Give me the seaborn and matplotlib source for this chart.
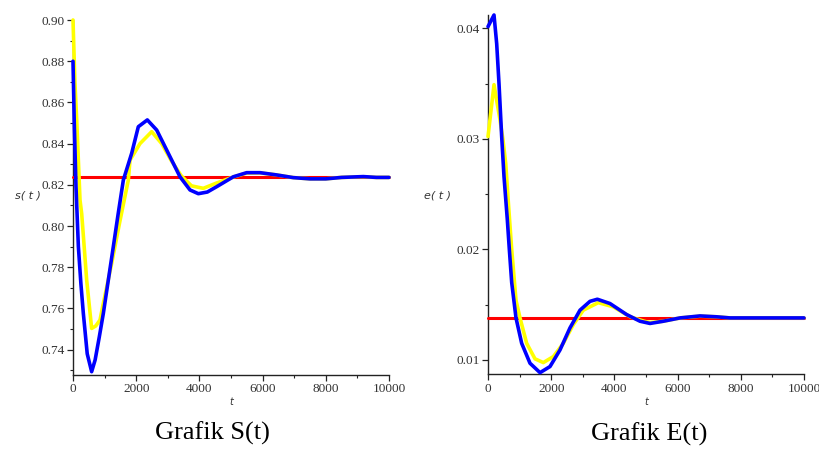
import numpy as np
import pandas as pd
import matplotlib
matplotlib.use("Agg")
import matplotlib.pyplot as plt
import seaborn as sns
from matplotlib.ticker import MultipleLocator, FormatStrFormatter

# ---------------- data ----------------
# S(t) panel
s_blue_t = [0, 40, 95, 170, 250, 327, 450, 590, 700, 830, 960, 1120, 1276, 1430, 1593,
            1857, 2067, 2352, 2648, 2964, 3386, 3703, 3966, 4250, 4547, 5073, 5497,
            5918, 6446, 6972, 7500, 8000, 8500, 9187, 9600, 10000]
s_blue_v = [0.880, 0.850, 0.819, 0.790, 0.772, 0.7576, 0.738, 0.7293, 0.735, 0.746, 0.7576,
            0.774, 0.790, 0.806, 0.8223, 0.8353, 0.8482, 0.8515, 0.8466, 0.8369, 0.8239,
            0.8175, 0.8157, 0.8165, 0.8191, 0.8239, 0.8259, 0.8259, 0.8248, 0.8235, 0.8229,
            0.8229, 0.8236, 0.8240, 0.8236, 0.8236]
s_yel_t = [0, 60, 117, 222, 275, 433, 590, 720, 854, 960, 1224, 1480, 1751, 1804, 2120,
           2490, 2807, 3100, 3420, 3750, 4124, 4547, 5073, 5497, 5918, 6446, 6972, 7500,
           8000, 8500, 9187, 9600, 10000]
s_yel_v = [0.900, 0.870, 0.8515, 0.8126, 0.806, 0.7738, 0.7503, 0.7515, 0.7544, 0.7625,
           0.7819, 0.802, 0.8223, 0.832, 0.840, 0.8458, 0.840, 0.832, 0.8245, 0.8195,
           0.8183, 0.8209, 0.8238, 0.8257, 0.8258, 0.8248, 0.8235, 0.8229, 0.8229, 0.8236,
           0.8239, 0.8236, 0.8236]
s_red_t = [0, 10000]
s_red_v = [0.8236, 0.8236]

# E(t) panel
e_blue_t = [0, 190, 275, 348, 433, 506, 611, 675, 750, 886, 1066, 1329, 1646, 1962,
            2278, 2595, 2911, 3228, 3460, 3861, 4389, 4810, 5127, 5548, 6076, 6710,
            7237, 7658, 10000]
e_blue_v = [0.04015, 0.0412, 0.0386, 0.0350, 0.0302, 0.0266, 0.0227, 0.0200, 0.0170,
            0.0138, 0.0115, 0.0097, 0.00885, 0.0094, 0.0109, 0.0129, 0.0145, 0.0153,
            0.01549, 0.0151, 0.0141, 0.0135, 0.0133, 0.0135, 0.0138, 0.01398, 0.0139,
            0.0138, 0.0138]
e_yel_t = [0, 190, 380, 470, 560, 650, 750, 886, 1013, 1224, 1487, 1751, 2067, 2383,
           2700, 3016, 3490, 3966, 4500, 4937, 5127, 5548, 6076, 6710, 7237, 7658, 10000]
e_yel_v = [0.0302, 0.0349, 0.0317, 0.0300, 0.0278, 0.0240, 0.0200, 0.0154, 0.0138,
           0.0115, 0.0101, 0.00976, 0.0103, 0.0115, 0.0132, 0.0145, 0.01518, 0.0148,
           0.0139, 0.0135, 0.01338, 0.0135, 0.0138, 0.01396, 0.0139, 0.0138, 0.0138]
e_red_t = [0, 10000]
e_red_v = [0.01382, 0.01382]

x_ticks = [0, 2000, 4000, 6000, 8000, 10000]
titles = ["Grafik S(t)", "Grafik E(t)"]
ylabels = ["s( t )", "e( t )"]

# ---------------- figure ----------------
sns.set_style("ticks")
plt.rcParams["font.family"] = ["Liberation Serif", "DejaVu Serif"]

W, H = 819, 449
fig = plt.figure(figsize=(W / 100, H / 100), dpi=100)

def px_rect(x0, x1, ytop, ybot):
    return [x0 / W, 1 - ybot / H, (x1 - x0) / W, (ybot - ytop) / H]

ax1 = fig.add_axes(px_rect(73, 389, 20, 375))
ax2 = fig.add_axes(px_rect(488, 804, 15, 374.3))

def draw(ax, red, yel, blue):
    for (t, v), col, lw, z in [(red, "#FF0000", 2.2, 1), (yel, "#FFFF00", 2.6, 2),
                               (blue, "#0000FF", 2.6, 3)]:
        df = pd.DataFrame({"t": t, "v": v})
        sns.lineplot(data=df, x="t", y="v", ax=ax, color=col, lw=lw, zorder=z,
                     sort=False, estimator=None, clip_on=False)

draw(ax1, (s_red_t, s_red_v), (s_yel_t, s_yel_v), (s_blue_t, s_blue_v))
draw(ax2, (e_red_t, e_red_v), (e_yel_t, e_yel_v), (e_blue_t, e_blue_v))

ax1.set_ylim(0.7277, 0.900)
ax2.set_ylim(0.0087, 0.0412)
ax1.yaxis.set_major_locator(MultipleLocator(0.02))
ax1.yaxis.set_minor_locator(MultipleLocator(0.01))
ax1.yaxis.set_major_formatter(FormatStrFormatter("%.2f"))
ax2.yaxis.set_major_locator(MultipleLocator(0.01))
ax2.yaxis.set_minor_locator(MultipleLocator(0.005))
ax2.yaxis.set_major_formatter(FormatStrFormatter("%.2f"))

for ax in (ax1, ax2):
    ax.set_xlim(0, 10000)
    ax.set_xticks(x_ticks)
    ax.xaxis.set_minor_locator(MultipleLocator(1000))
    ax.set_xlabel("")
    ax.set_ylabel("")
    sns.despine(ax=ax)
    for sp in ("left", "bottom"):
        ax.spines[sp].set_color("#222222")
        ax.spines[sp].set_linewidth(1.0)
        ax.spines[sp].set_zorder(0.5)
    ax.tick_params(which="major", direction="out", length=4, width=0.9,
                   colors="#222222", labelsize=9.5, labelcolor="#333333", pad=2)
    ax.tick_params(which="minor", direction="out", length=2.5, width=0.8,
                   colors="#222222")
    ax.set_facecolor("white")

# axis labels (Maple style)
fig.text(28 / W, 1 - 196 / H, ylabels[0], fontsize=8, style="italic",
         family="DejaVu Sans", color="#333333", ha="center", va="center")
fig.text(438 / W, 1 - 195 / H, ylabels[1], fontsize=8, style="italic",
         family="DejaVu Sans", color="#333333", ha="center", va="center")
fig.text(231 / W, 1 - 402 / H, "t", fontsize=7, style="italic",
         family="DejaVu Sans", color="#333333", ha="center", va="center")
fig.text(646 / W, 1 - 402 / H, "t", fontsize=7, style="italic",
         family="DejaVu Sans", color="#333333", ha="center", va="center")

# captions
fig.text(212 / W, 1 - 433 / H, titles[0], fontsize=19, color="black",
         ha="center", va="center")
fig.text(649 / W, 1 - 434 / H, titles[1], fontsize=19, color="black",
         ha="center", va="center")

fig.savefig("out.png", dpi=100, facecolor="white")
